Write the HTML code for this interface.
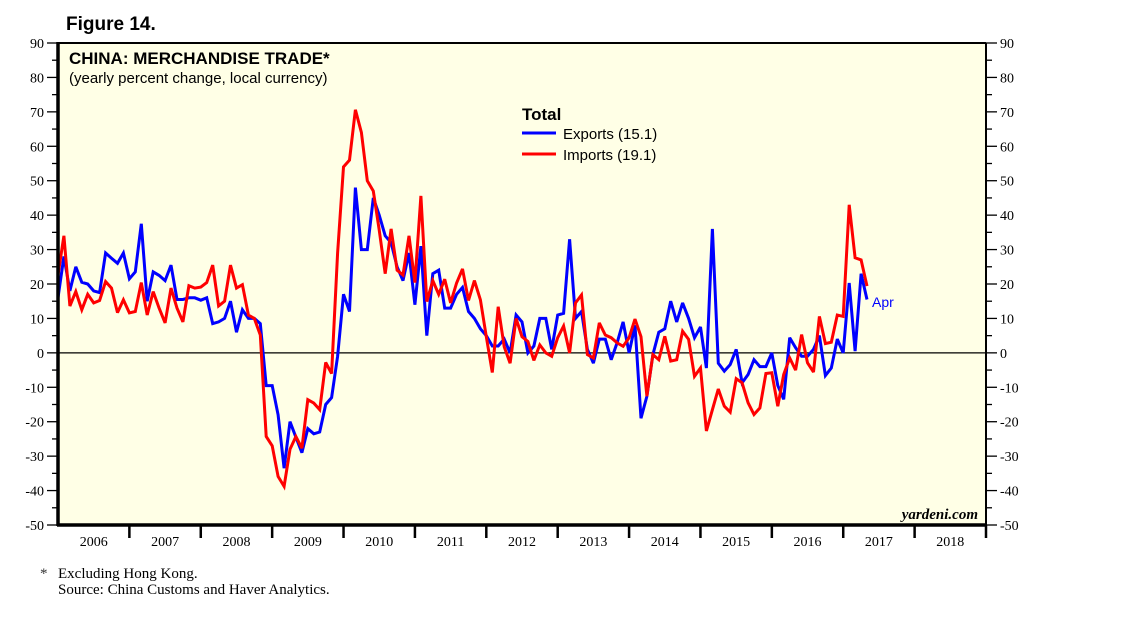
<!DOCTYPE html>
<html><head><meta charset="utf-8"><style>
body{margin:0;background:#fff;width:1138px;height:621px;overflow:hidden}
svg{display:block}
</style></head><body>
<svg id="chart" width="1138" height="621" xmlns="http://www.w3.org/2000/svg">
<text x="66" y="30" font-family="Liberation Sans, sans-serif" font-weight="bold" font-size="19">Figure 14.</text>
<rect x="58" y="43" width="928" height="482" fill="#FFFFE6" stroke="none"/>
<g id="axes"></g>
<g id="series"></g>
<line x1="58" y1="43" x2="986" y2="43" stroke="#000" stroke-width="2"/>
<line x1="986" y1="43" x2="986" y2="525" stroke="#000" stroke-width="2"/>
<line x1="58" y1="42" x2="58" y2="526" stroke="#000" stroke-width="3.5"/>
<line x1="57" y1="525" x2="987" y2="525" stroke="#000" stroke-width="3.5"/>
<text x="69" y="64" font-family="Liberation Sans, sans-serif" font-weight="bold" font-size="17">CHINA: MERCHANDISE TRADE*</text>
<text x="69" y="83" font-family="Liberation Sans, sans-serif" font-size="15">(yearly percent change, local currency)</text>
<g>
<text x="522" y="120" font-family="Liberation Sans, sans-serif" font-weight="bold" font-size="17">Total</text>
<line x1="522" y1="133" x2="556" y2="133" stroke="#0000FF" stroke-width="3"/>
<text x="563" y="139" font-family="Liberation Sans, sans-serif" font-size="15">Exports (15.1)</text>
<line x1="522" y1="154" x2="556" y2="154" stroke="#FF0000" stroke-width="3"/>
<text x="563" y="160" font-family="Liberation Sans, sans-serif" font-size="15">Imports (19.1)</text>
</g>
<text x="872" y="307" fill="#0000FF" font-family="Liberation Sans, sans-serif" font-size="14">Apr</text>
<text x="978" y="519" text-anchor="end" font-family="Liberation Serif, serif" font-style="italic" font-weight="bold" font-size="15">yardeni.com</text>
<text x="40" y="578" font-family="Liberation Serif, serif" font-size="15" fill="#333">*</text>
<text x="58" y="578" font-family="Liberation Serif, serif" font-size="15">Excluding Hong Kong.</text>
<text x="58" y="594" font-family="Liberation Serif, serif" font-size="15">Source: China Customs and Haver Analytics.</text>
</svg>
<script>
const years = [2006,2007,2008,2009,2010,2011,2012,2013,2014,2015,2016,2017,2018];
const yTicks = [90,80,70,60,50,40,30,20,10,0,-10,-20,-30,-40,-50];
const exportsData = [16,28,18,25,20.5,20,18,17.5,29,27.5,26,29,21.5,23.5,37.5,15,23.5,22.5,21,25.5,15.5,15.5,16,16,15.3,16,8.5,9,10,15,6,12.5,10,10,8.5,-9.5,
-9.5,-18,-33.5,-20,-24.5,-29,-22,-23.5,-23,-15,-13,-1,17,12,48,
30,30,45,40,34,32,25,21,29,14,31,5,23,24,13,13,17,19,12,10,7,5,2,2,4,0,11,9,0,2,10,10,1,11,11.5,33,10,12,1,-3,4,4,-2,3,9,0,8,-19,
-12.6,-0.5,6,7,15,9,14.5,10,4.4,7.5,-4.4,36,-3,-5.3,-3.4,1,-8.7,-6.3,-2,-4,-4,0,-9.5,-13.5,4.4,1.5,-1,-1,1,5,-6.6,-4.4,4,0,20.3,0.5,23,15.5];
const importsData = [22.6,34,13.6,17.8,12.5,17,14.5,15.2,20.7,18.8,11.7,15.4,11.6,12,20.4,11,17.8,13,8.7,18.8,13,9,19.5,18.8,19.1,20.4,25.5,13.6,15,25.5,18.8,19.8,11,10,5.2,-24.3,
-27,-35.9,-38.8,-28,-24.3,-27.7,-13.6,-14.6,-16.5,-2.8,-6,29,54,56,70.6,
64,50,47,35.7,23,36,24,22.6,34,20.4,45.6,14.9,21,17,21.4,14.5,20.3,24.4,15.2,21,15.4,4.7,-5.7,13.4,1.8,-3,10,4.7,3.3,-2.2,2.3,0,-1,4.4,7.8,0,14.5,16.8,-0.5,-1.5,8.7,5.2,4.4,2.9,1.9,4.4,9.8,4.7,
-12.6,-0.5,-2,4.8,-2.4,-2,6.3,3.9,-6.8,-4.4,-22.7,-16.5,-10.5,-15.5,-17.2,-7.5,-8.7,-14.5,-17.9,-16,-6,-5.8,-15.5,-6.3,-1.5,-5,5.3,-2.9,-5.6,10.6,2.7,3.1,11,10.6,43,27.6,27,19.4];

const NS='http://www.w3.org/2000/svg';
const X0=58, X1=986, Y0=43, Y1=525, YMAX=90, YMIN=-50;
const yearW=(X1-X0)/years.length;
function yScale(v){return Y0+(YMAX-v)*(Y1-Y0)/(YMAX-YMIN);}
function xScale(i){return X0+i*yearW/12;}
function mk(tag,attrs,parent){const e=document.createElementNS(NS,tag);for(const k in attrs)e.setAttribute(k,attrs[k]);parent.appendChild(e);return e;}
const axes=document.getElementById('axes');
for(let v=YMAX;v>=YMIN;v-=5){
  const y=yScale(v), major=v%10===0;
  const l=mk('line',{x1:major?47:52,y1:y,x2:58,y2:y,stroke:'#000','stroke-width':1.3},axes);
  
  
  const r=mk('line',{x1:986,y1:y,x2:major?997:992,y2:y,stroke:'#000','stroke-width':1.3},axes);
  
  
}
yTicks.forEach(v=>{
  const y=yScale(v)+5;
  const t=mk('text',{x:44,y:y,'text-anchor':'end','font-family':'Liberation Serif, serif','font-size':14},axes);
  t.textContent=v;
  
  
  const t2=mk('text',{x:1000,y:y,'font-family':'Liberation Serif, serif','font-size':14},axes);
  t2.textContent=v;
  
  
});
const z=mk('line',{x1:X0,y1:yScale(0),x2:X1,y2:yScale(0),stroke:'#000','stroke-width':1.2},axes);


years.forEach((yr,i)=>{
  const xb=X0+(i+1)*yearW;
  const tk=mk('line',{x1:xb,y1:525,x2:xb,y2:538,stroke:'#000','stroke-width':2.5},axes);
  
  
  const t=mk('text',{x:X0+(i+0.5)*yearW,y:546,'text-anchor':'middle','font-family':'Liberation Serif, serif','font-size':14},axes);
  t.textContent=yr;
  
  
});
const series=document.getElementById('series');
function line(data,color,name){
  const d=data.map((v,i)=>(i?'L':'M')+xScale(i).toFixed(1)+','+yScale(v).toFixed(1)).join('');
  const p=mk('path',{d:d,fill:'none',stroke:color,'stroke-width':3,'stroke-linejoin':'miter','stroke-miterlimit':3},series);
  
  
}
line(exportsData,'#0000FF','exports-line');
line(importsData,'#FF0000','imports-line');
</script>
</body></html>
